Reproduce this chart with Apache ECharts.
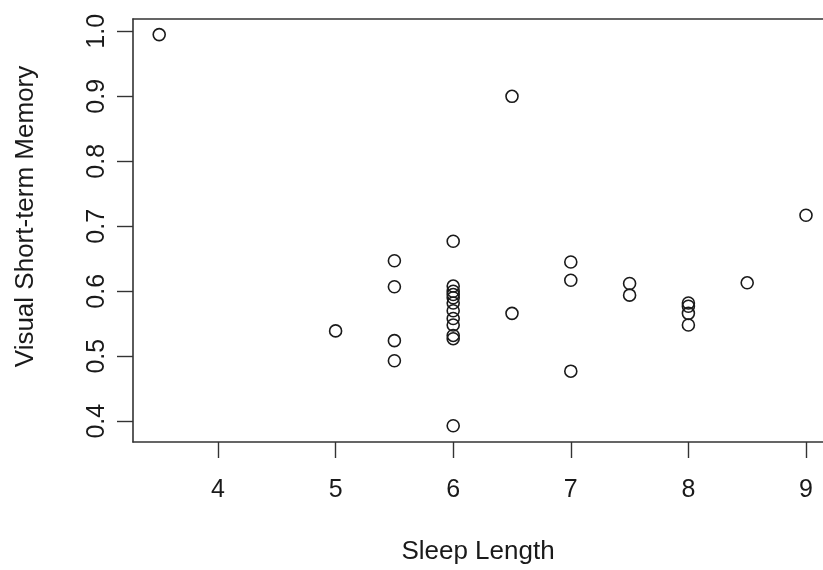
<!DOCTYPE html>
<html>
<head>
<meta charset="utf-8">
<script src="https://cdn.jsdelivr.net/npm/echarts@6/dist/echarts.min.js"></script>
<style>
html,body{margin:0;padding:0;background:#fff;}
#chart{width:823px;height:570px;}
</style>
</head>
<body>
<div id="chart"></div>
<script>
// Data
var sleepLength = [3.5, 6.5, 5, 5.5, 5.5, 5.5, 5.5,
  6, 6, 6, 6, 6, 6, 6, 6, 6, 6, 6, 6,
  6.5, 7, 7, 7, 7.5, 7.5, 8, 8, 8, 8, 8.5, 9];
var shortTermMemory = [0.995, 0.900, 0.539, 0.647, 0.607, 0.524, 0.493,
  0.677, 0.608, 0.600, 0.595, 0.590, 0.582, 0.570, 0.558, 0.548, 0.532, 0.527, 0.393,
  0.566, 0.645, 0.617, 0.477, 0.612, 0.594, 0.582, 0.577, 0.566, 0.548, 0.613, 0.717];
var xTicks = [4, 5, 6, 7, 8, 9];
var yTicks = [0.4, 0.5, 0.6, 0.7, 0.8, 0.9, 1.0];
var xTitle = 'Sleep Length';
var yTitle = 'Visual Short-term Memory';

var points = sleepLength.map(function (x, i) { return [x, shortTermMemory[i]]; });

var FONT = 'Liberation Sans, Arial, Helvetica, sans-serif';
var TXT = '#1a1a1a';
var LINE = '#333333';

var chart = echarts.init(document.getElementById('chart'), null, {renderer: 'canvas'});
chart.setOption({
  animation: false,
  backgroundColor: '#ffffff',
  grid: {
    left: 133, top: 19, right: 0, bottom: 128,
    show: false,
    containLabel: false
  },
  xAxis: [{
    type: 'value',
    position: 'bottom',
    min: 3.2772, max: 9.1446,
    name: xTitle,
    nameLocation: 'middle',
    nameGap: 97,
    nameTextStyle: {fontFamily: FONT, fontSize: 26, color: TXT},
    axisLine: {show: true, onZero: false, lineStyle: {color: LINE, width: 1.6}},
    axisTick: {show: true, inside: false, length: 16, customValues: xTicks,
      lineStyle: {color: LINE, width: 1.4}},
    axisLabel: {show: true, customValues: xTicks, margin: 36,
      fontFamily: FONT, fontSize: 25, color: TXT,
      formatter: function (v) { return String(v); }},
    splitLine: {show: false}
  }, {
    type: 'value',
    position: 'top',
    min: 3.2772, max: 9.1446,
    axisLine: {show: true, onZero: false, lineStyle: {color: LINE, width: 1.6}},
    axisTick: {show: false},
    axisLabel: {show: false},
    splitLine: {show: false}
  }],
  yAxis: {
    type: 'value',
    min: 0.368, max: 1.019,
    name: yTitle,
    nameLocation: 'middle',
    nameGap: 94,
    nameRotate: 90,
    nameTextStyle: {fontFamily: FONT, fontSize: 26, color: TXT, padding: [0, 0, 0, 28]},
    axisLine: {show: true, onZero: false, lineStyle: {color: LINE, width: 1.6}},
    axisTick: {show: true, inside: false, length: 16, customValues: yTicks,
      lineStyle: {color: LINE, width: 1.4}},
    axisLabel: {show: true, customValues: yTicks, margin: 23, rotate: 90,
      fontFamily: FONT, fontSize: 25, color: TXT,
      formatter: function (v) { return v.toFixed(1); }},
    splitLine: {show: false}
  },
  series: [{
    type: 'scatter',
    xAxisIndex: 0,
    data: points,
    symbol: 'circle',
    symbolSize: 12,
    silent: true,
    itemStyle: {color: 'rgba(0,0,0,0)', borderColor: '#1a1a1a', borderWidth: 1.6, opacity: 1}
  }]
});
</script>
</body>
</html>
